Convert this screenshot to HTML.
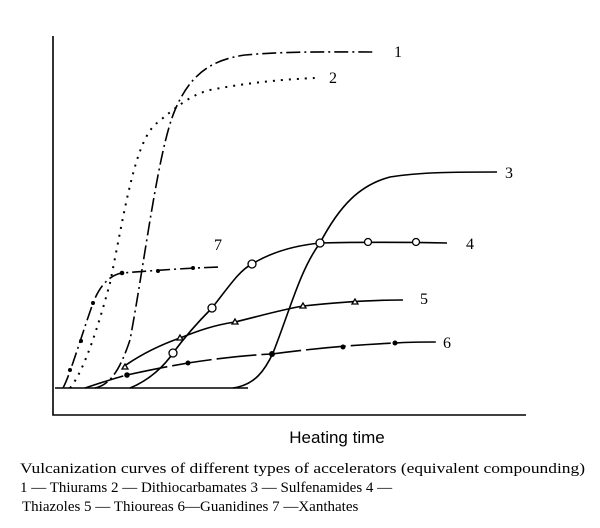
<!DOCTYPE html>
<html><head><style>
body{margin:0;background:#fff;width:600px;height:528px;overflow:hidden}
</style></head><body>
<svg width="600" height="528" xmlns="http://www.w3.org/2000/svg" style="position:absolute;left:0;top:0">
<g fill="none" stroke="#000" stroke-width="1.6">
<path d="M53 36 V415 H526"/>
<path d="M55 388 H248"/>
<!-- 1 -->
<path d="M95 388 C110 385 120 370 130 340 C145 260 158 150 175 110 C190 75 210 60 245 55 C290 51 340 52 375 52" stroke-dasharray="14,4,2,4"/>
<!-- 2 -->
<path d="M70 388 C85 370 100 320 110 283 C125 210 135 140 157 123 C175 108 190 95 210 90 C250 82 290 79 315 78" stroke-dasharray="2,6" stroke-width="2"/>
<!-- 7 -->
<path d="M63 388 C70 375 80 340 93 303 C100 285 110 275 122 273 C160 270 190 268 220 267" stroke-dasharray="14,4,2,4"/>
<!-- 3 -->
<path d="M233 388 C255 385 265 370 273 353 C290 310 300 270 320 243 C340 205 360 185 390 177 C420 172 460 172 497 172"/>
<!-- 4 -->
<path d="M130 388 C150 380 165 365 173 353 C190 330 205 315 212 308 C230 285 240 270 252 264 C275 250 300 245 320 243 C360 242 400 242 447 243"/>
<!-- 5 -->
<path d="M123 367 C140 355 160 345 180 338 C200 330 215 325 235 322 C260 316 280 310 303 306 C340 302 370 300 403 300"/>
<!-- 6 -->
<path d="M85 388 C100 383 115 378 127 375 C150 370 170 366 188 363 C220 358 250 355 272 354 C310 349 350 345 395 343 C410 342 425 342 436 342" stroke-dasharray="40,5"/>
</g>
<g fill="#fff" stroke="#000" stroke-width="1.3">
<circle cx="173" cy="353" r="4"/><circle cx="212" cy="308" r="4"/><circle cx="252" cy="264" r="4"/><circle cx="320" cy="243" r="4"/><circle cx="368" cy="242" r="3.5"/><circle cx="416" cy="242" r="3.5"/>
<path d="M125 364 l-3 5 h6z M180 335 l-3 5 h6z M235 319 l-3 5 h6z M303 303 l-3 5 h6z M355 299 l-3 5 h6z"/>
</g>
<g fill="#000">
<circle cx="127" cy="375" r="2.8"/><circle cx="188" cy="363" r="2.5"/><circle cx="272" cy="354" r="3"/><circle cx="343" cy="347" r="2.5"/><circle cx="395" cy="343" r="2.5"/>
<circle cx="70" cy="370" r="2"/><circle cx="81" cy="341" r="2"/><circle cx="93" cy="303" r="2"/><circle cx="122" cy="273" r="2.3"/><circle cx="158" cy="271" r="2"/><circle cx="193" cy="268" r="2"/>
</g>
<g font-family="Liberation Serif, serif" font-size="16" fill="#000">
<text x="394" y="57">1</text><text x="329" y="83">2</text><text x="505" y="178">3</text><text x="466" y="249">4</text><text x="420" y="304">5</text><text x="443" y="348">6</text><text x="214" y="250">7</text>
</g>
<text x="337" y="443" font-family="Liberation Sans, sans-serif" font-size="17" text-anchor="middle">Heating time</text>
<g font-family="Liberation Serif, serif" font-size="15" fill="#000">
<text x="20" y="473" textLength="565" lengthAdjust="spacingAndGlyphs">Vulcanization curves of different types of accelerators (equivalent compounding)</text>
<text x="20" y="492">1 — Thiurams  2 — Dithiocarbamates  3 — Sulfenamides  4 —</text>
<text x="22" y="511">Thiazoles 5 — Thioureas 6—Guanidines 7 —Xanthates</text>
</g>
</svg>
</body></html>
